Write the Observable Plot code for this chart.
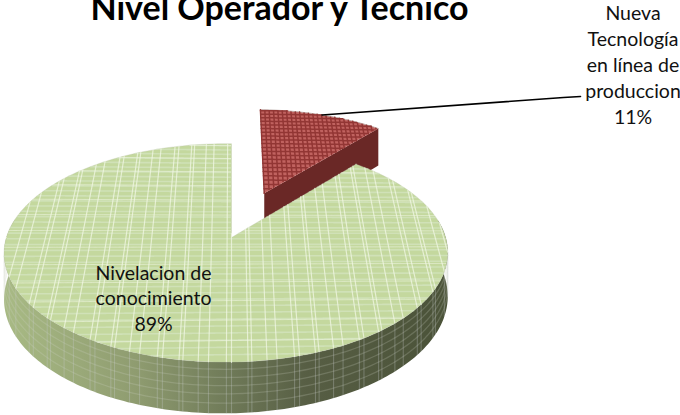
<!DOCTYPE html>
<html>
<head>
<meta charset="utf-8">
<script src="https://cdn.jsdelivr.net/npm/d3@7"></script>
<script src="https://cdn.jsdelivr.net/npm/@observablehq/plot@0.6"></script>
<style>html,body{margin:0;padding:0;background:#fff}svg{display:block}</style>
</head>
<body>
<script>
const chartTitle = "Nivel Operador y Tecnico";
const categories = ["Nivelacion de conocimiento", "Nueva Tecnología en línea de produccion"];
const shares = [89, 11];
const labelLines = [["Nivelacion de", "conocimiento"], ["Nueva", "Tecnología", "en línea de", "produccion"]];

// Disc model: a unit circle seen in perspective, extruded downward.
const view = {cx: 231, cy: 237, R: 219.5, H: 107, k: 0.141, m: 0.025, D: 44};
const explode = 0.47;
const W = 680, H = 415;
const project = (u, v, h = 0) => {
  const w = 1 + view.k * v + view.m * u;
  return {x: view.cx + view.R * u / w, y: view.cy - view.H * v / w + view.D * h / w};
};
const TAU = 2 * Math.PI;
const theta = TAU * shares[1] / 100;      // red slice runs clockwise from the top
const mid = theta / 2;
const off = {u: explode * Math.sin(mid), v: explode * Math.cos(mid)};
const arcPts = (a0, a1, n, du = 0, dv = 0, h = 0) =>
  d3.range(n + 1).map(i => {
    const t = a0 + (a1 - a0) * i / n;
    return project(Math.sin(t) + du, Math.cos(t) + dv, h);
  });

const greenFace = [project(0, 0), ...arcPts(theta, TAU, 240), project(0, 0)];
const redFace = [project(off.u, off.v), ...arcPts(0, theta, 40, off.u, off.v)];
const rimStart = 80 * Math.PI / 180, rimEnd = 280 * Math.PI / 180;
const greenRim = [...arcPts(rimStart, rimEnd, 200), ...arcPts(rimStart, rimEnd, 200, 0, 0, 1).reverse()];
const redWall = [
  project(off.u, off.v), ...arcPts(theta, theta, 1, off.u, off.v).slice(0, 1),
  ...arcPts(theta, theta, 1, off.u, off.v, 1).slice(0, 1), project(off.u, off.v, 1)
];

// Woven fabric texture, built in disc space so that it follows the perspective.
const inGreen = (u, v) => {
  if (u * u + v * v > 1) return false;
  const a = (Math.atan2(u, v) + TAU) % TAU;
  return a >= theta;
};
const inRed = (u, v) => {
  if (u * u + v * v > 1) return false;
  const a = (Math.atan2(u, v) + TAU) % TAU;
  return a <= theta;
};
function gridLine(kind, c, test, du, dv, id, n) {
  const out = [];
  for (let i = 0; i <= n; i++) {
    const s = -1 + 2 * i / n;
    const u = kind === "u" ? c : s, v = kind === "u" ? s : c;
    out.push(test(u, v) ? {...project(u + du, v + dv), z: id} : {x: null, y: null, z: id});
  }
  return out;
}
const plaidTile = [0, 0.02, 0.085, 0.1, 0.16, 0.2];
const plaidU = [];
for (let b = -1.1; b < 1; b += 0.27) plaidTile.forEach(o => plaidU.push(b + o));
const greenBold = plaidU.flatMap((c, i) => gridLine("u", c, inGreen, 0, 0, "u" + i, 420));
const greenRows = d3.range(-1, 1, 0.052).flatMap((c, i) => gridLine("v", c, inGreen, 0, 0, "r" + i, 420));
const greenFine = d3.range(-1, 1, 0.152).flatMap((c, i) => gridLine("v", c, inGreen, 0, 0, "f" + i, 420));
const redV = d3.range(0, 1, 0.024).flatMap((c, i) => gridLine("u", c, inRed, off.u, off.v, "a" + i, 160));
const redH = d3.range(0, 1.01, 0.047).flatMap((c, i) => gridLine("v", c, inRed, off.u, off.v, "b" + i, 160));

const rimV = plaidU.flatMap((c, i) => {
  if (Math.abs(c) >= 1) return [];
  const v = -Math.sqrt(1 - c * c);
  return [{...project(c, v, 0), z: "v" + i}, {...project(c, v, 1), z: "v" + i}];
});
const rimH = [0.14, 0.3, 0.46, 0.62, 0.8].flatMap((h, i) =>
  arcPts(rimStart, rimEnd, 160, 0, 0, h).map(p => ({...p, z: "h" + i})));

const leaderStart = project(Math.sin(mid) + off.u, Math.cos(mid) + off.v);
const leader = [leaderStart, {x: 563, y: 97}, {x: 580, y: 96}];

const bodyFont = "Lato, Carlito, sans-serif";
const textRows = [
  ...labelLines[0].map((t, i) => ({t, x: 153, y: 273 + i * 25.5})),
  {t: shares[0] + "%", x: 153, y: 273 + 2 * 25.5},
  ...labelLines[1].map((t, i) => ({t, x: 632.5, y: 13 + i * 26})),
  {t: shares[1] + "%", x: 632.5, y: 13 + 4 * 26}
];

const defs = () => {
  const d = d3.create("svg:defs");
  const g = d.append("linearGradient").attr("id", "rimShade").attr("gradientUnits", "userSpaceOnUse")
    .attr("x1", 0).attr("x2", 450).attr("y1", 0).attr("y2", 0);
  [[0, "#a9bb85"], [0.3, "#8f9c70"], [0.5, "#707b59"], [0.68, "#575e44"], [1, "#4a5238"]]
    .forEach(([o, c]) => g.append("stop").attr("offset", o).attr("stop-color", c));
  return d.node();
};

const fig = Plot.plot({
  width: W, height: H, margin: 0,
  x: {domain: [0, W], range: [0, W], axis: null},
  y: {domain: [0, H], range: [0, H], axis: null},
  style: {background: "#fff"},
  marks: [
    defs,
    Plot.line(redWall, {x: "x", y: "y", fill: "#6a2826", stroke: "none"}),
    Plot.line(redFace, {x: "x", y: "y", fill: "#c0625f", stroke: "#b9a9a6", strokeWidth: 0.8}),
    Plot.line(redV, {x: "x", y: "y", z: "z", stroke: "#923634", strokeWidth: 1.5}),
    Plot.line(redH, {x: "x", y: "y", z: "z", stroke: "#923634", strokeWidth: 1.5}),
    Plot.line(greenRim, {x: "x", y: "y", fill: "url(#rimShade)", stroke: "none"}),
    Plot.line(rimH, {x: "x", y: "y", z: "z", stroke: "#d3d8c8", strokeOpacity: 0.22, strokeWidth: 1.3}),
    Plot.line(rimV, {x: "x", y: "y", z: "z", stroke: "#c9ccd2", strokeOpacity: 0.3, strokeWidth: 1.1}),
    Plot.line(greenFace, {x: "x", y: "y", fill: "#c4d89e", stroke: "#bcc3ae", strokeWidth: 0.6, strokeOpacity: 0.5}),
    Plot.line(greenRows, {x: "x", y: "y", z: "z", stroke: "#dcead0", strokeOpacity: 0.5, strokeWidth: 1.6}),
    Plot.line(greenFine, {x: "x", y: "y", z: "z", stroke: "#f4f9ea", strokeOpacity: 0.55, strokeWidth: 1}),
    Plot.line(greenBold, {x: "x", y: "y", z: "z", stroke: "#f3f8e6", strokeOpacity: 0.72, strokeWidth: 1.2}),
    Plot.line(leader, {x: "x", y: "y", stroke: "#000", strokeWidth: 1.6, curve: "linear"}),
    Plot.text(textRows, {x: "x", y: "y", text: "t", fontFamily: bodyFont, fontSize: 19.5, fill: "#111", textAnchor: "middle"}),
    Plot.text([chartTitle], {x: () => 279, y: () => 9, text: d => d, fontFamily: bodyFont, fontSize: 34, fontWeight: 700, fill: "#000", textAnchor: "middle"})
  ]
});
document.body.append(fig);
</script>
</body>
</html>
